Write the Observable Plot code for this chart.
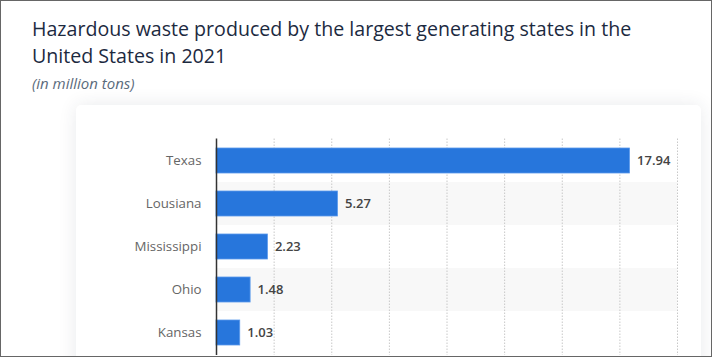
<!DOCTYPE html>
<html>
<head>
<meta charset="utf-8">
<script src="https://cdn.jsdelivr.net/npm/d3@7"></script>
<script src="https://cdn.jsdelivr.net/npm/@observablehq/plot@0.6"></script>
<style>
  html, body { margin: 0; padding: 0; background: #fff; }
  #frame { position: relative; width: 712px; height: 357px; box-sizing: border-box; border: 1px solid #666; overflow: hidden; background: #fff; }
  #title { position: absolute; left: 31px; top: 14px; width: 650px; font-family: "Open Sans", sans-serif; font-size: 19.6px; line-height: 27px; font-weight: 500; color: #1c2a3f; margin: 0; }
  #subtitle { position: absolute; left: 31px; top: 71.5px; font-family: "Open Sans", sans-serif; font-size: 15px; font-style: italic; color: #5b6b7c; margin: 0; }
  #card { position: absolute; left: 75px; top: 104px; width: 625px; height: 300px; background: #fff; border-radius: 5px; box-shadow: 0 0 18px rgba(40, 50, 70, 0.10); }
  #chart { position: absolute; left: 75px; top: 104px; }
</style>
</head>
<body>
<div id="frame">
  <div id="title">Hazardous waste produced by the largest generating states in the United States in 2021</div>
  <div id="subtitle">(in million tons)</div>
  <div id="card"></div>
  <div id="chart"></div>
</div>
<script>
const states = ["Texas", "Lousiana", "Mississippi", "Ohio", "Kansas"];
const values = [17.94, 5.27, 2.23, 1.48, 1.03];
const xTicks = [2.5, 5, 7.5, 10, 12.5, 15, 17.5, 20];
const stripedStates = ["Lousiana", "Ohio"];

const data = states.map((s, i) => ({state: s, value: values[i]}));
const stripes = stripedStates.map(s => ({state: s}));

const plot = Plot.plot({
  width: 625,
  height: 252,
  marginLeft: 140,
  marginRight: 24,
  marginTop: 33.5,
  marginBottom: 2,
  style: { fontFamily: "'Open Sans', sans-serif", fontSize: "13px", background: "transparent", overflow: "visible" },
  x: { domain: [0, 20], axis: null },
  y: { domain: states, padding: 0, label: null, tickSize: 0, tickPadding: 15 },
  marks: [
    Plot.barX(stripes, { y: "state", x1: 0, x2: 20, fill: "#f8f8f8" }),
    Plot.ruleX(xTicks, { stroke: "#c8c8c8", strokeWidth: 1, strokeDasharray: "1.5,1.5" }),
    Plot.axisY({ tickSize: 0, tickPadding: 15, label: null, fill: "#666", fontSize: 13.3, textStroke: "none" }),
    Plot.barX(data, { y: "state", x: "value", fill: "#2776dc", insetTop: 9, insetBottom: 9, stroke: "#5b9aec", strokeWidth: 0.8 }),
    Plot.text(data, { y: "state", x: "value", text: d => d.value.toFixed(2), textAnchor: "start", dx: 7, fill: "#444", fontWeight: 600, fontSize: 13 }),
    Plot.ruleX([0], { stroke: "#333", strokeWidth: 1.5 })
  ]
});
document.getElementById("chart").appendChild(plot);
</script>
</body>
</html>
